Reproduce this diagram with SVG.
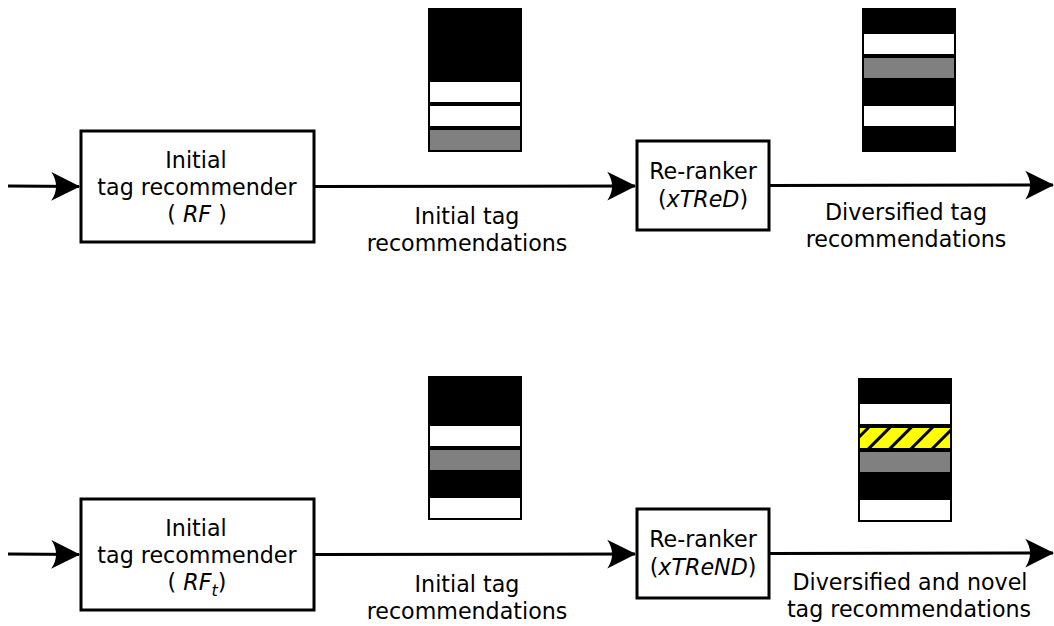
<svg xmlns="http://www.w3.org/2000/svg" width="1054" height="626" viewBox="0 0 1054 626">
  <style>
    .box { fill: #ffffff; stroke: #000000; stroke-width: 3; }
    .edge { fill: none; stroke: #000000; stroke-width: 3; }
    .lbl { font-family: "DejaVu Sans", "Liberation Sans", sans-serif; font-size: 22.2px; fill: #000000; text-anchor: middle; }
    .it { font-style: italic; }
    .blk { fill: #000000; }
    .wht { fill: #ffffff; }
    .gry { fill: #808080; }
  </style>
  <defs>
    <marker id="arrow" markerUnits="userSpaceOnUse" markerWidth="32" markerHeight="32" viewBox="-28 -15 30 30" refX="0" refY="0" orient="auto">
      <path d="M 1 0 L -26 -13.5 Q -17 0 -26 13.5 Z" fill="#000000"/>
    </marker>
    <pattern id="hatch" patternUnits="userSpaceOnUse" width="15" height="15" patternTransform="rotate(45)">
      <rect x="0" y="0" width="15" height="15" fill="#ffff00"/>
      <rect x="0" y="0" width="3" height="15" fill="#000000"/>
    </pattern>
  </defs>

  <rect width="1054" height="626" fill="#ffffff"/>

  <!-- connectors -->
  <g id="connectors">
    <line class="edge" x1="8" y1="186" x2="79" y2="186.5" marker-end="url(#arrow)"/>
    <line class="edge" x1="315" y1="186.5" x2="635" y2="186" marker-end="url(#arrow)"/>
    <line class="edge" x1="770" y1="185.5" x2="1053" y2="185" marker-end="url(#arrow)"/>
    <line class="edge" x1="8" y1="554" x2="79" y2="554.5" marker-end="url(#arrow)"/>
    <line class="edge" x1="315" y1="554.5" x2="635" y2="554" marker-end="url(#arrow)"/>
    <line class="edge" x1="770" y1="553.5" x2="1053" y2="553" marker-end="url(#arrow)"/>
  </g>

  <!-- top row -->
  <g id="recommender-top">
    <rect class="box" x="81" y="131" width="233" height="111"/>
    <text class="lbl" x="196" y="168">Initial</text>
    <text class="lbl" x="197" y="195">tag recommender</text>
    <text class="lbl" x="197" y="222">( <tspan class="it">RF</tspan> )</text>
  </g>
  <g id="reranker-top">
    <rect class="box" x="637" y="141" width="132" height="89"/>
    <text class="lbl" x="703" y="179">Re-ranker</text>
    <text class="lbl" x="703" y="207">(<tspan class="it">xTReD</tspan>)</text>
  </g>
  <g id="label-initial-top">
    <text class="lbl" x="467" y="224">Initial tag</text>
    <text class="lbl" x="467" y="251">recommendations</text>
  </g>
  <g id="label-diversified-top">
    <text class="lbl" x="906" y="220">Diversified tag</text>
    <text class="lbl" x="906" y="247">recommendations</text>
  </g>
  <g id="list-initial-top">
    <rect class="blk" x="428" y="8" width="94" height="144"/>
    <rect class="wht" x="430" y="82" width="90" height="20"/>
    <rect class="wht" x="430" y="106" width="90" height="20"/>
    <rect class="gry" x="430" y="130" width="90" height="20"/>
  </g>
  <g id="list-diversified-top">
    <rect class="blk" x="862" y="8" width="94" height="144"/>
    <rect class="wht" x="864" y="34" width="90" height="20"/>
    <rect class="gry" x="864" y="58" width="90" height="20"/>
    <rect class="wht" x="864" y="106" width="90" height="20"/>
  </g>

  <!-- bottom row -->
  <g id="recommender-bottom">
    <rect class="box" x="81" y="499" width="233" height="111"/>
    <text class="lbl" x="196" y="536">Initial</text>
    <text class="lbl" x="197" y="563">tag recommender</text>
    <text class="lbl" x="197" y="590">( <tspan class="it">RF</tspan><tspan class="it" font-size="16" dy="6">t</tspan><tspan dy="-6">)</tspan></text>
  </g>
  <g id="reranker-bottom">
    <rect class="box" x="637" y="509" width="132" height="89"/>
    <text class="lbl" x="703" y="547">Re-ranker</text>
    <text class="lbl" x="703" y="575">(<tspan class="it">xTReND</tspan>)</text>
  </g>
  <g id="label-initial-bottom">
    <text class="lbl" x="467" y="592">Initial tag</text>
    <text class="lbl" x="467" y="619">recommendations</text>
  </g>
  <g id="label-novel-bottom">
    <text class="lbl" x="910" y="590">Diversified and novel</text>
    <text class="lbl" x="909" y="617">tag recommendations</text>
  </g>
  <g id="list-initial-bottom">
    <rect class="blk" x="428" y="376" width="94" height="144"/>
    <rect class="wht" x="430" y="426" width="90" height="20"/>
    <rect class="gry" x="430" y="450" width="90" height="20"/>
    <rect class="wht" x="430" y="498" width="90" height="20"/>
  </g>
  <g id="list-novel-bottom">
    <rect class="blk" x="858" y="378" width="94" height="144"/>
    <rect class="wht" x="860" y="404" width="90" height="20"/>
    <rect x="860" y="428" width="90" height="20" fill="url(#hatch)"/>
    <rect class="gry" x="860" y="452" width="90" height="20"/>
    <rect class="wht" x="860" y="500" width="90" height="20"/>
  </g>
</svg>
